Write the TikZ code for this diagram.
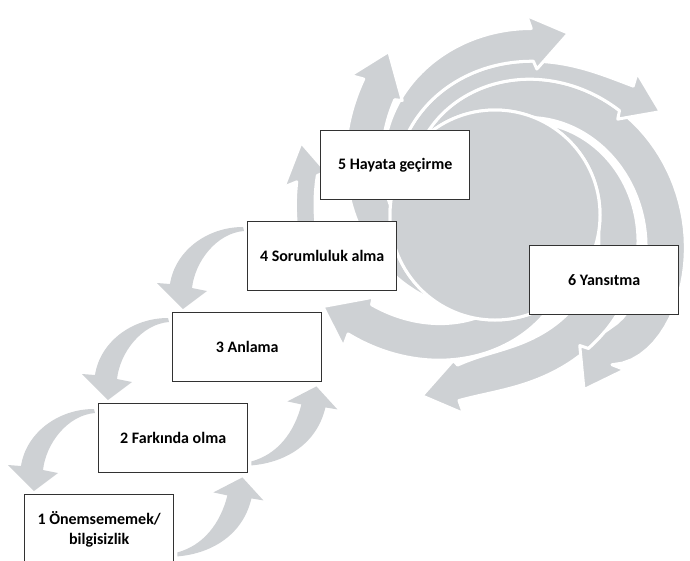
\documentclass[tikz,border=0pt]{standalone}
\usepackage{fontspec}
\setmainfont{Carlito}
\usetikzlibrary{calc}
\definecolor{swirlgray}{RGB}{206,209,212}
\definecolor{boxline}{RGB}{50,50,50}

% One arm of the swirl: a spiral band ending in an arrow head.
% #1 start angle, #2 tip angle, #3 outer radius as a function of \ang, #4 inner radius of \ang
\newcommand\swirlarm[4]{%
  \pgfmathsetmacro\armOe{#2-11}%
  \pgfmathsetmacro\armIe{#2-8}%
  \pgfmathsetmacro\armIc{#2-6}%
  \def\ang{\armOe}\pgfmathsetmacro\armRo{#3}%
  \def\ang{\armIc}\pgfmathsetmacro\armRi{#4}%
  \filldraw[swirl]
    plot[domain=#1:\armOe, samples=70, variable=\ang] ({(#3)*cos(\ang)}, {(#3)*sin(\ang)})
    -- ({#2-13}:{\armRo+12}) -- ({#2}:{\armRo+6}) -- ({\armIc}:{\armRi-8})
    -- plot[domain=\armIe:#1, samples=70, variable=\ang] ({(#4)*cos(\ang)}, {(#4)*sin(\ang)})
    -- cycle;}

\begin{document}
\begin{tikzpicture}[x=1pt,y=-1pt,
  declare function={
    % spiral edge: radius 105 at angle s, r at angle e; q bends it, w swings it out late, b bulges it
    edge(\t,\s,\e,\r,\q,\w,\b)=105+(\r-\w-105)*((1-\q)*max(0,(\t-\s)/(\e-\s))
        +\q*max(0,(\t-\s)/(\e-\s))*max(0,(\t-\s)/(\e-\s)))
        +\w*exp((\t-\e)/10)+\b*sin(180*max(0,(\t-\s)/(\e-\s)));
    rC(\t)=edge(\t,190,281,190,-0.3,0,0);
    rD(\t)=edge(\t,200,317,189,0,10,0);
    rE(\t)=edge(\t,228,412,190,0,-30,0);
    rF(\t)=edge(\t,300,461,189,0,14,10);
    rG(\t)=edge(\t,416,501,189,0.2,0,0);
    rA(\t)=edge(\t,485,586,189,0.5,0,0);
  },
  swirl/.style={fill=swirlgray, draw=white, line width=3pt, line join=round},
  stage/.style={draw=boxline, line width=1.4pt, fill=white,
    minimum width=149pt, minimum height=69pt, inner sep=0pt, anchor=north west,
    font=\bfseries\fontsize{16}{20}\selectfont, align=center},
  fallarrow/.pic={\fill[swirlgray] (-4,6) .. controls (-40,6) and (-72,30) .. (-77,63)
      -- (-90,62) -- (-64,88) -- (-40,70) -- (-55,67)
      .. controls (-52,40) and (-30,12) .. (-3,10) -- cycle;},
  risearrow/.pic={\fill[swirlgray] (-71,83) .. controls (-35,80) and (-5,60) .. (3,25)
      -- (15,27) -- (-6,4) -- (-35,19) -- (-21,22)
      .. controls (-28,50) and (-45,72) .. (-71,79) -- cycle;}
]
\useasboundingbox (0,0) rectangle (690,560);
\clip (0,0) rectangle (690,560);

% swirl around the central disc
\begin{scope}[shift={(495,215)}]
  \swirlarm{416}{512}{rG(\ang)}{max(105,rA(\ang),rG(\ang)-40)}
  \swirlarm{300}{472}{rF(\ang)}{max(105,rG(\ang),rF(\ang)-40)}
  \swirlarm{228}{423}{rE(\ang)}{max(105,rF(\ang),rE(\ang)-40)}
  \swirlarm{200}{328}{rD(\ang)}{max(105,rE(\ang),rD(\ang)-40)}
  \swirlarm{190}{292}{rC(\ang)}{max(105,rD(\ang),rC(\ang)-40)}
  \swirlarm{485}{597}{rA(\ang)}{max(105,rC(\ang-360),rA(\ang)-40)}
  \swirlarm{520}{560.5}{196+5*max(0,(\ang-520)/29.5)}{176+6*max(0,(\ang-520)/32.5)}
  \filldraw[swirl] (0,0) circle (105);
\end{scope}

% stages
\node[stage] (b1) at (24,494) {1 Önemsememek/\\bilgisizlik};
\node[stage] (b2) at (98,403) {2 Farkında olma};
\node[stage] (b3) at (172,312) {3 Anlama};
\node[stage] (b4) at (247,221) {4 Sorumluluk alma};
\node[stage] (b5) at (320,130) {5 Hayata geçirme};
\node[stage] (b6) at (529,245) {6 Yansıtma};

% curved arrows between neighbouring stages
\pic at (b4.north west) {fallarrow};
\pic at (b3.north west) {fallarrow};
\pic at (b2.north west) {fallarrow};
\pic at (b2.south east) {risearrow};
\pic at (b3.south east) {risearrow};
\end{tikzpicture}
\end{document}
